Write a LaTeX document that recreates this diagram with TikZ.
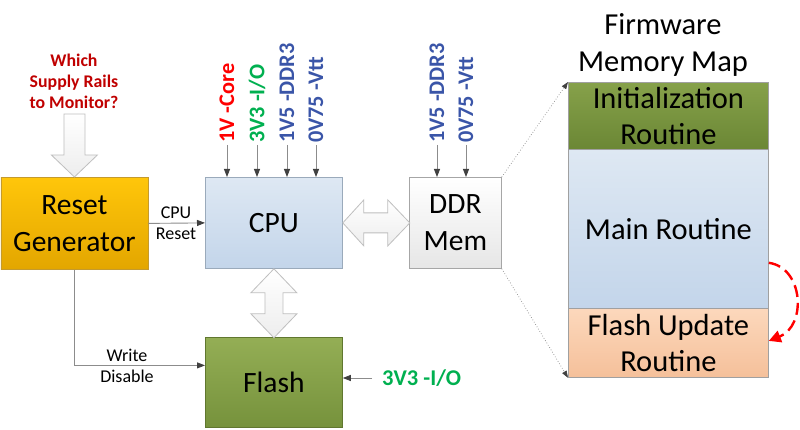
\documentclass[tikz,border=0pt]{standalone}
\usepackage{fontspec}
\setmainfont{Carlito}
\usetikzlibrary{arrows.meta,calc}
\definecolor{orT}{HTML}{FFC60A}
\definecolor{orB}{HTML}{E3A600}
\definecolor{orBd}{HTML}{C49A2E}
\definecolor{cpuT}{HTML}{DEE8F3}
\definecolor{cpuB}{HTML}{C3D5EA}
\definecolor{cpuBd}{HTML}{9AAABB}
\definecolor{ddrT}{HTML}{FFFFFF}
\definecolor{ddrB}{HTML}{E6E6E6}
\definecolor{ddrBd}{HTML}{A6A6A6}
\definecolor{flT}{HTML}{94AE55}
\definecolor{flB}{HTML}{76923C}
\definecolor{flBd}{HTML}{60772F}
\definecolor{initT}{HTML}{86A14A}
\definecolor{initB}{HTML}{6B8735}
\definecolor{fuT}{HTML}{FCD8BC}
\definecolor{fuB}{HTML}{F5C09A}
\definecolor{memBd}{HTML}{A0A0A0}
\definecolor{railRed}{HTML}{FF0000}
\definecolor{railGreen}{HTML}{00B050}
\definecolor{railBlue}{HTML}{3A55A8}
\definecolor{qRed}{HTML}{C00000}
\definecolor{lineGray}{HTML}{8C8C8C}
\definecolor{tipGray}{HTML}{404040}
\definecolor{blkBd}{HTML}{BFBFBF}
\definecolor{blkF}{HTML}{EDEDED}
\begin{document}
\begin{tikzpicture}[x=1pt,y=-1pt,
  box/.style={line width=0.8pt, anchor=north west, inner sep=0pt, align=center,
    font=\fontsize{29.5}{37}\selectfont},
  mapbox/.style={box, font=\fontsize{30.5}{36}\selectfont},
  sigtxt/.style={font=\fontsize{18}{20}\selectfont, align=center, inner sep=0pt},
  rail/.style={font=\bfseries\fontsize{22.3}{24}\selectfont, rotate=90, anchor=west, inner sep=2pt},
  sig/.style={draw=lineGray, line width=0.9pt, -{Triangle[length=8pt,width=6pt,color=tipGray]}},
  blk/.style={draw=blkBd, line width=0.8pt, top color=white, bottom color=blkF},
  mapline/.style={draw=lineGray, dotted, line width=0.7pt, -{Triangle[length=7pt,width=5pt,color=tipGray]}}]
\useasboundingbox[fill=white] (0,0) rectangle (800,430);

% main blocks
\node[box, draw=orBd, top color=orT, bottom color=orB, minimum width=147pt, minimum height=92pt] (reset) at (0.5,177) {Reset\\Generator};
\node[box, draw=cpuBd, top color=cpuT, bottom color=cpuB, minimum width=137pt, minimum height=91pt] (cpu) at (205,177) {CPU};
\node[box, draw=ddrBd, top color=ddrT, bottom color=ddrB, minimum width=92pt, minimum height=91pt] (ddr) at (409,177) {DDR\\Mem};
\node[box, draw=flBd, top color=flT, bottom color=flB, minimum width=137pt, minimum height=90pt] (flash) at (205,337) {Flash};

% memory map
\node[font=\fontsize{30.5}{37}\selectfont, align=center] (title) at (663,45) {Firmware\\Memory Map};
\node[mapbox, draw=memBd, top color=initT, bottom color=initB, minimum width=200pt, minimum height=67pt] (init) at (568,82) {Initialization\\Routine};
\node[mapbox, draw=memBd, top color=cpuT, bottom color=cpuB, minimum width=200pt, minimum height=159pt] (main) at (568,149) {Main Routine};
\node[mapbox, draw=memBd, top color=fuT, bottom color=fuB, minimum width=200pt, minimum height=69pt] (fupd) at (568,308) {Flash Update\\Routine};

% question and big arrow
\node[font=\bfseries\fontsize{17.8}{21}\selectfont, text=qRed, align=center] (q) at (74,81) {Which\\Supply Rails\\to Monitor?};
\draw[blk] (reset.north) -- ++(23,-22) -- ++(-12.5,0) -- ++(0,-41) -- ++(-21,0) -- ++(0,41) -- ++(-12.5,0) -- cycle;

% block arrows
\draw[blk] (cpu.east) -- ++(21,-23) -- ++(0,13) -- ++(24,0) -- ++(0,-13) -- ++(22,23) -- ++(-22,23) -- ++(0,-13) -- ++(-24,0) -- ++(0,13) -- cycle;
\draw[blk] (cpu.south) -- ++(23,24) -- ++(-14,0) -- ++(0,21) -- ++(14,0) -- ++(-23,24) -- ++(-23,-24) -- ++(14,0) -- ++(0,-21) -- ++(-14,0) -- cycle;

% reset signals
\draw[sig] (reset.east) -- (cpu.west);
\node[sigtxt] (cpurst) at (176,223) {CPU\\[1pt]Reset};
\draw[sig] (reset.south) |- ([yshift=17pt]flash.west);
\node[sigtxt] (wd) at (127,366) {Write\\[1pt]Disable};

% rails
\node[rail, text=railRed] (c1) at (227,145) {1V -Core};
\node[rail, text=railGreen] (c2) at (257,145) {3V3 -I/O};
\node[rail, text=railBlue] (c3) at (287,145) {1V5 -DDR3};
\node[rail, text=railBlue] (c4) at (316,145) {0V75 -Vtt};
\node[rail, text=railBlue] (d1) at (437,145) {1V5 -DDR3};
\node[rail, text=railBlue] (d2) at (466,145) {0V75 -Vtt};
\foreach \r in {c1,c2,c3,c4}{\draw[sig] (\r.west) -- (\r.west |- cpu.north);}
\foreach \r in {d1,d2}{\draw[sig] (\r.west) -- (\r.west |- ddr.north);}
\node[anchor=west, font=\bfseries\fontsize{22.5}{24}\selectfont, text=railGreen, inner sep=2pt] (f33) at (380,378) {3V3 -I/O};
\draw[sig, shorten <=8pt] (f33.west) -- (f33.west -| flash.east);

% memory map links
\draw[mapline] (ddr.north east) -- (init.north west);
\draw[mapline] (ddr.south east) -- (fupd.south west);
\draw[draw=railRed, line width=2.4pt, dash pattern=on 12pt off 6pt, -{Triangle[length=12pt,width=12pt]}]
  ([yshift=46pt]main.south east) .. controls +(35,5) and +(38,-15) .. ([yshift=2pt]fupd.east);
\end{tikzpicture}
\end{document}
